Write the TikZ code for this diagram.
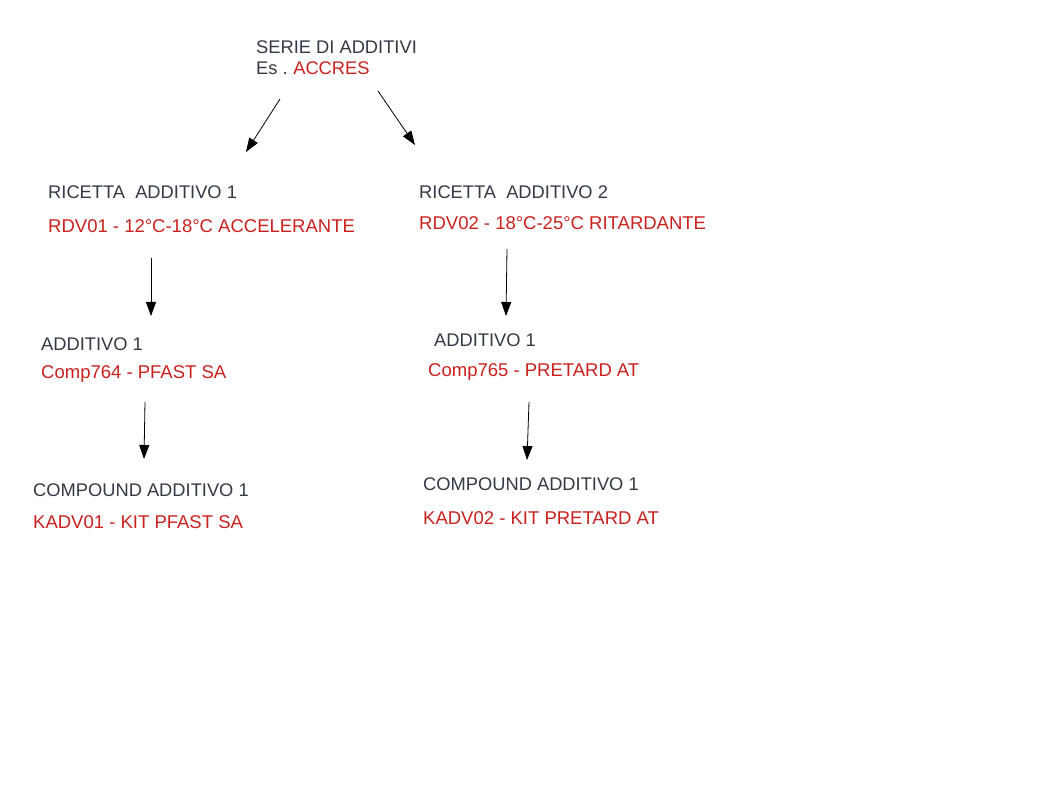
\documentclass[tikz,border=0pt]{standalone}
\usepackage{fontspec}
\setmainfont{Liberation Sans}
\usetikzlibrary{arrows.meta}
\definecolor{txtgray}{HTML}{333A45}
\definecolor{txtred}{HTML}{C9211E}
\begin{document}
\begin{tikzpicture}[x=1pt,y=-1pt,
  lbl/.style={anchor=base west, inner sep=0pt, font=\fontsize{18.3}{21}\selectfont, text=txtgray},
  redlbl/.style={lbl, font=\fontsize{18.5}{21}\selectfont, text=txtred},
  arr/.style={-{Triangle[length=14pt,width=10pt]}, line width=0.8pt, draw=black}]
\useasboundingbox[fill=white] (0,0) rectangle (1058,794);
% top
\node[lbl] (serie) at (256,54) {SERIE DI ADDITIVI};
\node[lbl] (es) at (256,75) {Es .\kern0.5pt\ \textcolor{txtred}{ACCRES}};
% left column
\node[lbl] (ric1) at (48,199) {RICETTA\ \ ADDITIVO 1};
\node[redlbl] (rdv1) at (48,233) {RDV01 - 12°C-18°C ACCELERANTE};
\node[lbl] (add1) at (41,351) {ADDITIVO 1};
\node[redlbl] (comp1) at (41,378) {Comp764 - PFAST SA};
\node[lbl] (cpd1) at (33,496) {COMPOUND ADDITIVO 1};
\node[redlbl] (kad1) at (33,528) {KADV01 - KIT PFAST SA};
% right column
\node[lbl] (ric2) at (419,199) {RICETTA\ \ ADDITIVO 2};
\node[redlbl] (rdv2) at (419,230) {RDV02 - 18°C-25°C RITARDANTE};
\node[lbl] (add2) at (434,347) {ADDITIVO 1};
\node[redlbl] (comp2) at (428,377) {Comp765 - PRETARD AT};
\node[lbl] (cpd2) at (423,490) {COMPOUND ADDITIVO 1};
\node[redlbl] (kad2) at (423,524) {KADV02 - KIT PRETARD AT};
% arrow end points
\coordinate (a1s) at (280,99);  \coordinate (a1e) at (246,152);
\coordinate (a2s) at (378,91);  \coordinate (a2e) at (415,145);
\coordinate (a3s) at (151,258); \coordinate (a3e) at (151,316);
\coordinate (a4s) at (507,249); \coordinate (a4e) at (506,316);
\coordinate (a5s) at (145,402); \coordinate (a5e) at (144,459);
\coordinate (a6s) at (529,402); \coordinate (a6e) at (527,460);
\draw[arr] (a1s) -- (a1e);
\draw[arr] (a2s) -- (a2e);
\draw[arr] (a3s) -- (a3e);
\draw[arr] (a4s) -- (a4e);
\draw[arr] (a5s) -- (a5e);
\draw[arr] (a6s) -- (a6e);
\end{tikzpicture}
\end{document}
